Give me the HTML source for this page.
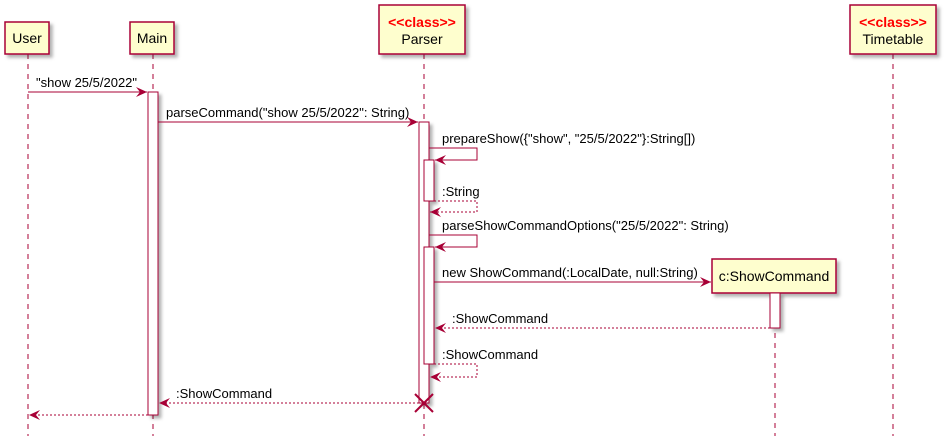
<!DOCTYPE html>
<html><head><meta charset="utf-8"><style>
html,body{margin:0;padding:0;background:#fff;}
svg{display:block;font-family:"Liberation Sans",sans-serif;}
</style></head><body>
<svg width="948" height="440" viewBox="0 0 948 440" xmlns="http://www.w3.org/2000/svg">
<defs>
<filter id="sh" x="-10%" y="-10%" width="130%" height="140%"><feDropShadow dx="3" dy="3" stdDeviation="1.5" flood-color="#000" flood-opacity="0.3"/></filter>
<marker id="a" markerWidth="12" markerHeight="10" refX="11" refY="5" orient="auto" markerUnits="userSpaceOnUse"><path d="M0,0 L11,5 L0,10 L4,5 Z" fill="#A80036"/></marker>
</defs>
<g stroke="#A80036" stroke-width="1" stroke-dasharray="5,5" fill="none">
<line x1="28" y1="54" x2="28" y2="436"/>
<line x1="153" y1="54" x2="153" y2="436"/>
<line x1="424" y1="54" x2="424" y2="436"/>
<line x1="893" y1="54" x2="893" y2="436"/>
<line x1="775" y1="293" x2="775" y2="436"/>
</g>
<g fill="#FEFECE" stroke="#A80036" stroke-width="1.5" filter="url(#sh)">
<rect x="5" y="22" width="44" height="32"/>
<rect x="130" y="22" width="44" height="32"/>
<rect x="379" y="5" width="86" height="49"/>
<rect x="850" y="5" width="86" height="49"/>
<rect x="712" y="259" width="124" height="34"/>
</g>
<g font-size="14" fill="#000" text-anchor="middle">
<text x="27" y="43">User</text>
<text x="152" y="43">Main</text>
<text x="422" y="27" fill="#FF0000" font-weight="bold" font-size="14">&lt;&lt;class&gt;&gt;</text>
<text x="422" y="44">Parser</text>
<text x="893" y="27" fill="#FF0000" font-weight="bold" font-size="14">&lt;&lt;class&gt;&gt;</text>
<text x="893" y="44">Timetable</text>
<text x="774" y="281">c:ShowCommand</text>
</g>
<g fill="#fff" stroke="#A80036" stroke-width="1" filter="url(#sh)">
<rect x="148" y="92" width="10" height="323"/>
<rect x="419" y="122" width="10" height="281"/>
<rect x="424" y="160" width="10" height="41"/>
<rect x="424" y="247" width="10" height="117"/>
<rect x="770" y="293" width="10" height="35"/>
</g>
<g stroke="#A80036" stroke-width="1" fill="none">
<line x1="28" y1="92" x2="147" y2="92" marker-end="url(#a)"/>
<line x1="158" y1="122" x2="418" y2="122" marker-end="url(#a)"/>
<polyline points="429,148 477,148 477,160 435,160" marker-end="url(#a)"/>
<polyline points="434,201 477,201 477,212 430,212" stroke-dasharray="2,2" marker-end="url(#a)"/>
<polyline points="429,235 477,235 477,247 435,247" marker-end="url(#a)"/>
<line x1="434" y1="282" x2="711" y2="282" marker-end="url(#a)"/>
<line x1="770" y1="328" x2="435" y2="328" stroke-dasharray="2,2" marker-end="url(#a)"/>
<polyline points="434,364 477,364 477,377 430,377" stroke-dasharray="2,2" marker-end="url(#a)"/>
<line x1="419" y1="403" x2="159" y2="403" stroke-dasharray="2,2" marker-end="url(#a)"/>
<line x1="148" y1="415" x2="29" y2="415" stroke-dasharray="2,2" marker-end="url(#a)"/>
<line x1="415" y1="394" x2="433" y2="412" stroke-width="2"/>
<line x1="433" y1="394" x2="415" y2="412" stroke-width="2"/>
</g>
<g font-size="13" fill="#000">
<text x="36" y="87">"show 25/5/2022"</text>
<text x="166" y="117">parseCommand("show 25/5/2022": String)</text>
<text x="442" y="143">prepareShow({"show", "25/5/2022"}:String[])</text>
<text x="442" y="196">:String</text>
<text x="442" y="230">parseShowCommandOptions("25/5/2022": String)</text>
<text x="442" y="277">new ShowCommand(:LocalDate, null:String)</text>
<text x="452" y="323">:ShowCommand</text>
<text x="442" y="359">:ShowCommand</text>
<text x="176" y="398">:ShowCommand</text>
</g>
</svg>
</body></html>
